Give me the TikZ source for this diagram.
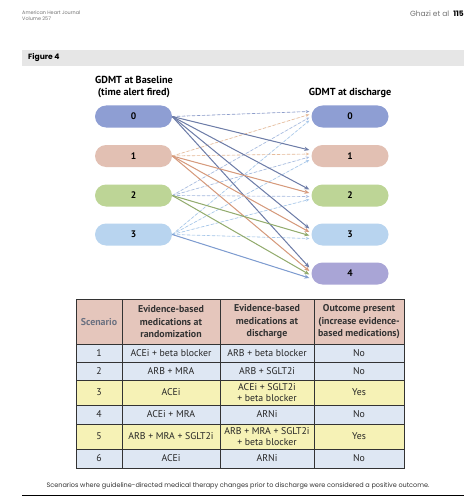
\documentclass[tikz,border=0pt]{standalone}
\usepackage{fontspec}
\setmainfont{PT Sans}
\newfontfamily\hdrfont{Poppins}
\usetikzlibrary{arrows.meta,calc}
\definecolor{nzero}{HTML}{8E9ED3}
\definecolor{nonec}{HTML}{E2C0B3}
\definecolor{ntwo}{HTML}{BDD596}
\definecolor{nthree}{HTML}{B8D4EF}
\definecolor{nfour}{HTML}{A9A5D6}
\definecolor{azero}{HTML}{6E7DA8}
\definecolor{aone}{HTML}{D69A7C}
\definecolor{atwo}{HTML}{93AC6E}
\definecolor{athree}{HTML}{7E9CD0}
\definecolor{dzero}{HTML}{8E9ECB}
\definecolor{done}{HTML}{E6BC9C}
\definecolor{dtwo}{HTML}{A8BCE0}
\definecolor{dthree}{HTML}{A8C8EA}
\definecolor{thead}{HTML}{E5C6BC}
\definecolor{tblue}{HTML}{DEE7F3}
\definecolor{tyellow}{HTML}{F6F2B6}
\definecolor{barg}{HTML}{E6E6E6}
\definecolor{scen}{HTML}{6A7080}
\tikzset{
  gnode/.style={rounded corners=11pt, minimum width=77pt, minimum height=22pt, inner sep=0pt, font=\fontsize{9.5}{10}\selectfont\bfseries},
  gtitle/.style={font=\fontsize{10.2}{12}\selectfont\bfseries, align=center, inner sep=0pt},
  solidarrow/.style={line width=1pt, -{Stealth[length=5pt,width=4.2pt]}},
  dasharrow/.style={line width=0.65pt, dash pattern=on 3pt off 2pt, -{Stealth[length=3.5pt,width=3pt]}},
  cell/.style={font=\fontsize{9.8}{11}\selectfont, align=center, inner sep=0pt, text=black!85},
  hcell/.style={font=\fontsize{9.9}{12.5}\selectfont\bfseries, align=center, inner sep=0pt, text=black!80},
  tline/.style={draw=black!80, line width=0.8pt},
}
\begin{document}
\begin{tikzpicture}[x=1pt,y=-1pt]
\useasboundingbox (0,0) rectangle (474,500);
\fill[white] (0,0) rectangle (474,500);
% page header
\node[anchor=west, inner sep=0pt, text=black!55, font=\hdrfont\fontsize{4.9}{6.5}\selectfont, align=left] (jr) at (22,15.5) {American Heart Journal\\Volume 257};
\node[anchor=east, inner sep=0pt, font=\hdrfont\fontsize{7.5}{9}\selectfont] (pg) at (464,13.5) {\textcolor{black!55}{Ghazi et al}\hspace{4pt}\textbf{115}};
\fill[barg] (22,50) rectangle (464,66);
\node[anchor=west, inner sep=0pt, font=\hdrfont\fontsize{7.6}{8}\selectfont\bfseries] (fig) at (28,58) {Figure 4};
% titles
\node[gtitle] (tl) at (134,87) {GDMT at Baseline\\(time alert fired)};
\node[gtitle] (tr) at (350,93) {GDMT at discharge};
% left nodes
\node[gnode, fill=nzero] (L0) at (133.5,116.5) {0};
\node[gnode, fill=nonec] (L1) at (133.5,156) {1};
\node[gnode, fill=ntwo] (L2) at (133.5,195.5) {2};
\node[gnode, fill=nthree] (L3) at (133.5,234.5) {3};
% right nodes
\node[gnode, fill=nzero] (R0) at (350,116.5) {0};
\node[gnode, fill=nonec] (R1) at (350,156) {1};
\node[gnode, fill=ntwo] (R2) at (350,195.5) {2};
\node[gnode, fill=nthree] (R3) at (350,234.5) {3};
\node[gnode, fill=nfour] (R4) at (350,273.5) {4};
% dashed connectors (same or lower)
\foreach \s/\c in {0/dzero,1/done,2/dtwo,3/dthree}{
  \foreach \t in {0,...,\s}{
    \pgfmathsetmacro{\off}{-5+\s*3}
    \draw[dasharrow, draw=\c, fill=\c] (L\s.east) -- ($(R\t.west)+(-2,\off)$);
  }
}
% solid connectors (increase)
\foreach \s/\c in {0/azero,1/aone,2/atwo,3/athree}{
  \pgfmathtruncatemacro{\st}{\s+1}
  \foreach \t in {\st,...,4}{
    \pgfmathsetmacro{\off}{-6+\s*3.5}
    \draw[solidarrow, draw=\c, fill=\c] (L\s.east) -- ($(R\t.west)+(-2,\off)$);
  }
}
% table backgrounds
\fill[thead] (76,299) rectangle (404,344);
\fill[tblue] (76,344) rectangle (404,362);
\fill[tblue] (76,362) rectangle (404,380);
\fill[tyellow] (76,380) rectangle (404,405);
\fill[tblue] (76,405) rectangle (404,424);
\fill[tyellow] (76,424) rectangle (404,449);
\fill[tblue] (76,449) rectangle (404,468);
% grid
\foreach \yy in {344,362,380,405,424,449}{ \draw[tline] (76,\yy) -- (404,\yy); }
\foreach \xx in {122,220,314}{ \draw[tline] (\xx,299) -- (\xx,468); }
\draw[tline, line width=1pt] (76,299) rectangle (404,468);
% header cells
\node[hcell, text=scen] (h1) at (99,322) {Scenario};
\node[hcell] (h2) at (171,322) {Evidence-based\\medications at\\randomization};
\node[hcell] (h3) at (267,322) {Evidence-based\\medications at\\discharge};
\node[hcell] (h4) at (359,322) {Outcome present\\(increase evidence-\\based medications)};
% rows
\node[cell] (a1) at (99,353) {1};
\node[cell] (b1) at (171,353) {ACEi + beta blocker};
\node[cell] (c1) at (267,353) {ARB + beta blocker};
\node[cell] (e1) at (359,353) {No};
\node[cell] (a2) at (99,371) {2};
\node[cell] (b2) at (171,371) {ARB + MRA};
\node[cell] (c2) at (267,371) {ARB + SGLT2i};
\node[cell] (e2) at (359,371) {No};
\node[cell] (a3) at (99,392.5) {3};
\node[cell] (b3) at (171,392.5) {ACEi};
\node[cell] (c3) at (267,392.5) {ACEi + SGLT2i\\+ beta blocker};
\node[cell] (e3) at (359,392.5) {Yes};
\node[cell] (a4) at (99,414.5) {4};
\node[cell] (b4) at (171,414.5) {ACEi + MRA};
\node[cell] (c4) at (267,414.5) {ARNi};
\node[cell] (e4) at (359,414.5) {No};
\node[cell] (a5) at (99,436.5) {5};
\node[cell] (b5) at (171,436.5) {ARB + MRA + SGLT2i};
\node[cell] (c5) at (267,436.5) {ARB + MRA + SGLT2i\\+ beta blocker};
\node[cell] (e5) at (359,436.5) {Yes};
\node[cell] (a6) at (99,458.5) {6};
\node[cell] (b6) at (171,458.5) {ACEi};
\node[cell] (c6) at (267,458.5) {ARNi};
\node[cell] (e6) at (359,458.5) {No};
% caption
\node[inner sep=0pt, font=\hdrfont\fontsize{6.5}{7}\selectfont, text=black!80] (cap) at (238,486) {Scenarios where guideline-directed medical therapy changes prior to discharge were considered a positive outcome.};
\draw[black, line width=0.9pt] (22,495) -- (464,495);
\end{tikzpicture}
\end{document}
